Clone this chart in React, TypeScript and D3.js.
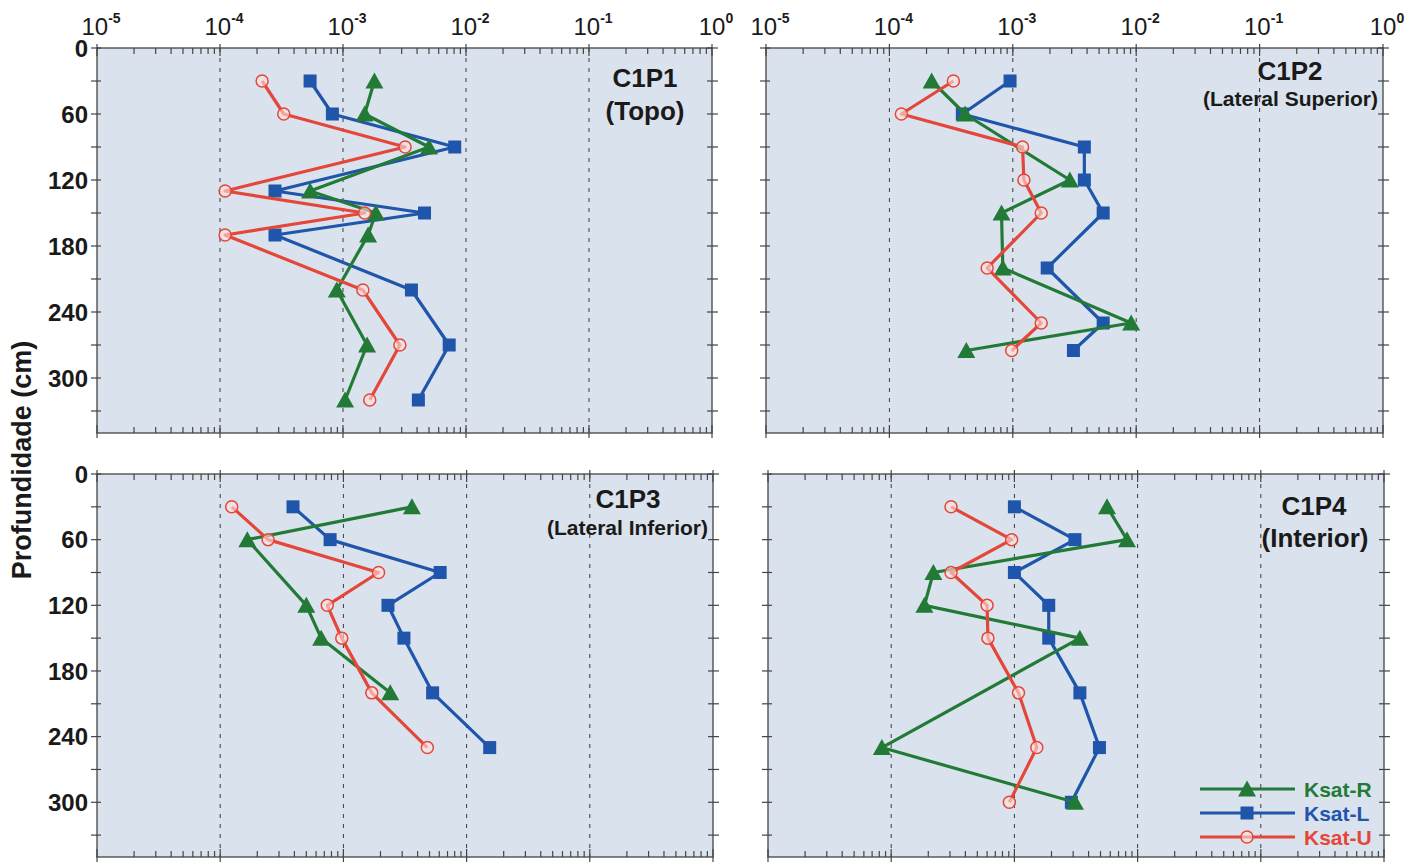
import React from 'react'
import * as d3 from 'd3'

// eixo x: decadas de Ksat (cm/s), eixo y: profundidade (cm)
const decades = [-5, -4, -3, -2, -1, 0]
const depthLabels = [0, 60, 120, 180, 240, 300]
const depthMinor = [30, 90, 150, 210, 270, 330]

// C1P1 (Topo)
const p1DepthR = [30, 60, 90, 130, 150, 170, 220, 270, 320]
const p1R = [1.8e-3, 1.5e-3, 5.0e-3, 5.4e-4, 1.85e-3, 1.6e-3, 8.9e-4, 1.57e-3, 1.04e-3]
const p1DepthL = [30, 60, 90, 130, 150, 170, 220, 270, 320]
const p1L = [5.4e-4, 8.2e-4, 8.1e-3, 2.8e-4, 4.6e-3, 2.8e-4, 3.6e-3, 7.3e-3, 4.1e-3]
const p1DepthU = [30, 60, 90, 130, 150, 170, 220, 270, 320]
const p1U = [2.2e-4, 3.3e-4, 3.2e-3, 1.1e-4, 1.5e-3, 1.1e-4, 1.45e-3, 2.9e-3, 1.65e-3]

// C1P2 (Lateral Superior)
const p2DepthR = [30, 60, 120, 150, 200, 250, 275]
const p2R = [2.2e-4, 4.1e-4, 2.9e-3, 8.1e-4, 8.3e-4, 9.1e-3, 4.2e-4]
const p2DepthL = [30, 60, 90, 120, 150, 200, 250, 275]
const p2L = [9.5e-4, 3.9e-4, 3.8e-3, 3.8e-3, 5.4e-3, 1.9e-3, 5.4e-3, 3.1e-3]
const p2DepthU = [30, 60, 90, 120, 150, 200, 250, 275]
const p2U = [3.3e-4, 1.25e-4, 1.2e-3, 1.23e-3, 1.7e-3, 6.2e-4, 1.7e-3, 9.8e-4]

// C1P3 (Lateral Inferior)
const p3DepthR = [30, 60, 120, 150, 200]
const p3R = [3.6e-3, 1.66e-4, 5.0e-4, 6.6e-4, 2.4e-3]
const p3DepthL = [30, 60, 90, 120, 150, 200, 250]
const p3L = [3.9e-4, 7.8e-4, 6.1e-3, 2.3e-3, 3.1e-3, 5.3e-3, 1.54e-2]
const p3DepthU = [30, 60, 90, 120, 150, 200, 250]
const p3U = [1.24e-4, 2.45e-4, 1.93e-3, 7.4e-4, 9.7e-4, 1.7e-3, 4.8e-3]

// C1P4 (Interior)
const p4DepthR = [30, 60, 90, 120, 150, 250, 300]
const p4R = [5.65e-3, 8.2e-3, 2.2e-4, 1.86e-4, 3.4e-3, 8.4e-5, 3.1e-3]
const p4DepthL = [30, 60, 90, 120, 150, 200, 250, 300]
const p4L = [1.0e-3, 3.1e-3, 1.0e-3, 1.9e-3, 1.9e-3, 3.4e-3, 4.9e-3, 2.9e-3]
const p4DepthU = [30, 60, 90, 120, 150, 200, 250, 300]
const p4U = [3.06e-4, 9.5e-4, 3.06e-4, 6.0e-4, 6.1e-4, 1.08e-3, 1.52e-3, 9.1e-4]

const seriesNames = ['Ksat-R', 'Ksat-L', 'Ksat-U']
const colors = { R: '#237a37', L: '#1f55aa', U: '#e4473a' }

const FONT = '"Liberation Sans", Arial, Helvetica, sans-serif'

const zip = (d: number[], k: number[]) => d.map((v, i) => ({ d: v, k: k[i] }))

const panels = [
  {
    title: 'C1P1', sub: '(Topo)', subSize: 26, tx: 645, ty: 87, sx: 645, sy: 120, subAnchor: 'middle',
    x0: 97, x1: 712, y0: 48, y1: 433, xLabels: true, yLabels: true,
    R: zip(p1DepthR, p1R), L: zip(p1DepthL, p1L), U: zip(p1DepthU, p1U),
  },
  {
    title: 'C1P2', sub: '(Lateral Superior)', subSize: 21, tx: 1290, ty: 80, sx: 1378, sy: 106, subAnchor: 'end',
    x0: 766, x1: 1383, y0: 48, y1: 433, xLabels: true, yLabels: false,
    R: zip(p2DepthR, p2R), L: zip(p2DepthL, p2L), U: zip(p2DepthU, p2U),
  },
  {
    title: 'C1P3', sub: '(Lateral Inferior)', subSize: 21, tx: 628, ty: 508, sx: 708, sy: 535, subAnchor: 'end',
    x0: 97, x1: 713, y0: 474, y1: 857, xLabels: false, yLabels: true,
    R: zip(p3DepthR, p3R), L: zip(p3DepthL, p3L), U: zip(p3DepthU, p3U),
  },
  {
    title: 'C1P4', sub: '(Interior)', subSize: 26, tx: 1314, ty: 515, sx: 1315, sy: 547, subAnchor: 'middle',
    x0: 768, x1: 1384, y0: 474, y1: 857, xLabels: false, yLabels: false,
    R: zip(p4DepthR, p4R), L: zip(p4DepthL, p4L), U: zip(p4DepthU, p4U),
  },
]

function Marker({ kind, x, y }: { kind: string; x: number; y: number }) {
  if (kind === 'R')
    return <path d="M0,-8.5L9,7.5L-9,7.5Z" transform={`translate(${x},${y})`} fill={colors.R} />
  if (kind === 'L')
    return <rect x={x - 6.5} y={y - 6.5} width={13} height={13} fill={colors.L} />
  return <circle cx={x} cy={y} r={6} fill="rgba(255,225,222,0.6)" stroke={colors.U} strokeWidth={1.5} />
}

function Panel({ p }: { p: any }) {
  const x = d3.scaleLog().domain([1e-5, 1]).range([p.x0, p.x1])
  const y = d3.scaleLinear().domain([0, 350]).range([p.y0, p.y1])
  const line = d3.line<{ d: number; k: number }>().x(d => x(d.k)).y(d => y(d.d))
  const allTicks = x.ticks()
  const isMajor = (t: number) => Math.abs(Math.log10(t) - Math.round(Math.log10(t))) < 1e-6

  return (
    <g>
      <rect x={p.x0} y={p.y0} width={p.x1 - p.x0} height={p.y1 - p.y0} fill="#dae3ed" />
      {decades.slice(1, -1).map(e => (
        <line key={e} x1={x(Math.pow(10, e))} x2={x(Math.pow(10, e))} y1={p.y0} y2={p.y1}
          stroke="#3a3a3a" strokeWidth={1} strokeDasharray="4,6" />
      ))}
      <rect x={p.x0} y={p.y0} width={p.x1 - p.x0} height={p.y1 - p.y0} fill="none" stroke="#444" strokeWidth={1.3} />
      {allTicks.map((t, i) => {
        const major = isMajor(t)
        const xx = x(t)
        return (
          <g key={i} stroke="#444" strokeWidth={1.2}>
            <line x1={xx} x2={xx} y1={p.y0 - (major ? 4 : 0)} y2={p.y0 + (major ? 8 : 6)} />
            <line x1={xx} x2={xx} y1={p.y1 + (major ? 5 : 0)} y2={p.y1 - (major ? 8 : 6)} />
          </g>
        )
      })}
      {[...depthLabels, ...depthMinor].map(t => (
        <g key={t} stroke="#444" strokeWidth={1.2}>
          <line x1={p.x0 - 6} x2={p.x0 + 4} y1={y(t)} y2={y(t)} />
          <line x1={p.x1 - 5} x2={p.x1 + 6} y1={y(t)} y2={y(t)} />
        </g>
      ))}
      {p.yLabels && depthLabels.map(t => (
        <text key={t} x={p.x0 - 9} y={y(t)} dy="0.36em" textAnchor="end"
          fontFamily={FONT} fontWeight="bold" fontSize={24} fill="#1a1a1a">{t}</text>
      ))}
      {p.xLabels && decades.map(e => (
        <text key={e} x={x(Math.pow(10, e)) + 4} y={35} textAnchor="middle"
          fontFamily={FONT} fontSize={24} fill="#1a1a1a">
          <tspan>10</tspan>
          <tspan dy={-12} fontSize={14} fontWeight="bold">{e}</tspan>
        </text>
      ))}
      {(['L', 'R', 'U'] as const).map(s => (
        <g key={s}>
          <path d={line(p[s]) || ''} fill="none" stroke={colors[s]} strokeWidth={3.2} strokeLinejoin="round" />
          {p[s].map((d: any, i: number) => <Marker key={i} kind={s} x={x(d.k)} y={y(d.d)} />)}
        </g>
      ))}
      <text x={p.tx} y={p.ty} textAnchor="middle" fontFamily={FONT} fontWeight="bold" fontSize={26} fill="#1a1a1a">{p.title}</text>
      <text x={p.sx} y={p.sy} textAnchor={p.subAnchor} fontFamily={FONT} fontWeight="bold" fontSize={p.subSize} fill="#1a1a1a">{p.sub}</text>
    </g>
  )
}

export default function App() {
  const legendY = d3.scalePoint().domain(seriesNames).range([789, 837])
  const keys = ['R', 'L', 'U'] as const
  return (
    <svg width={1412} height={867} style={{ position: 'absolute', left: 0, top: 0, background: '#fff' }}>
      {panels.map(p => <Panel key={p.title} p={p} />)}
      <text transform="translate(31,460) rotate(-90)" textAnchor="middle" fontFamily={FONT}
        fontWeight="bold" fontSize={27} fill="#1a1a1a">Profundidade (cm)</text>
      {seriesNames.map((n, i) => {
        const yy = legendY(n) as number
        const k = keys[i]
        return (
          <g key={n}>
            <line x1={1200} x2={1295} y1={yy} y2={yy} stroke={colors[k]} strokeWidth={3} />
            <Marker kind={k} x={1247} y={yy} />
            <text x={1304} y={yy} dy="0.36em" fontFamily={FONT} fontWeight="bold" fontSize={21} fill={colors[k]}>{n}</text>
          </g>
        )
      })}
    </svg>
  )
}
